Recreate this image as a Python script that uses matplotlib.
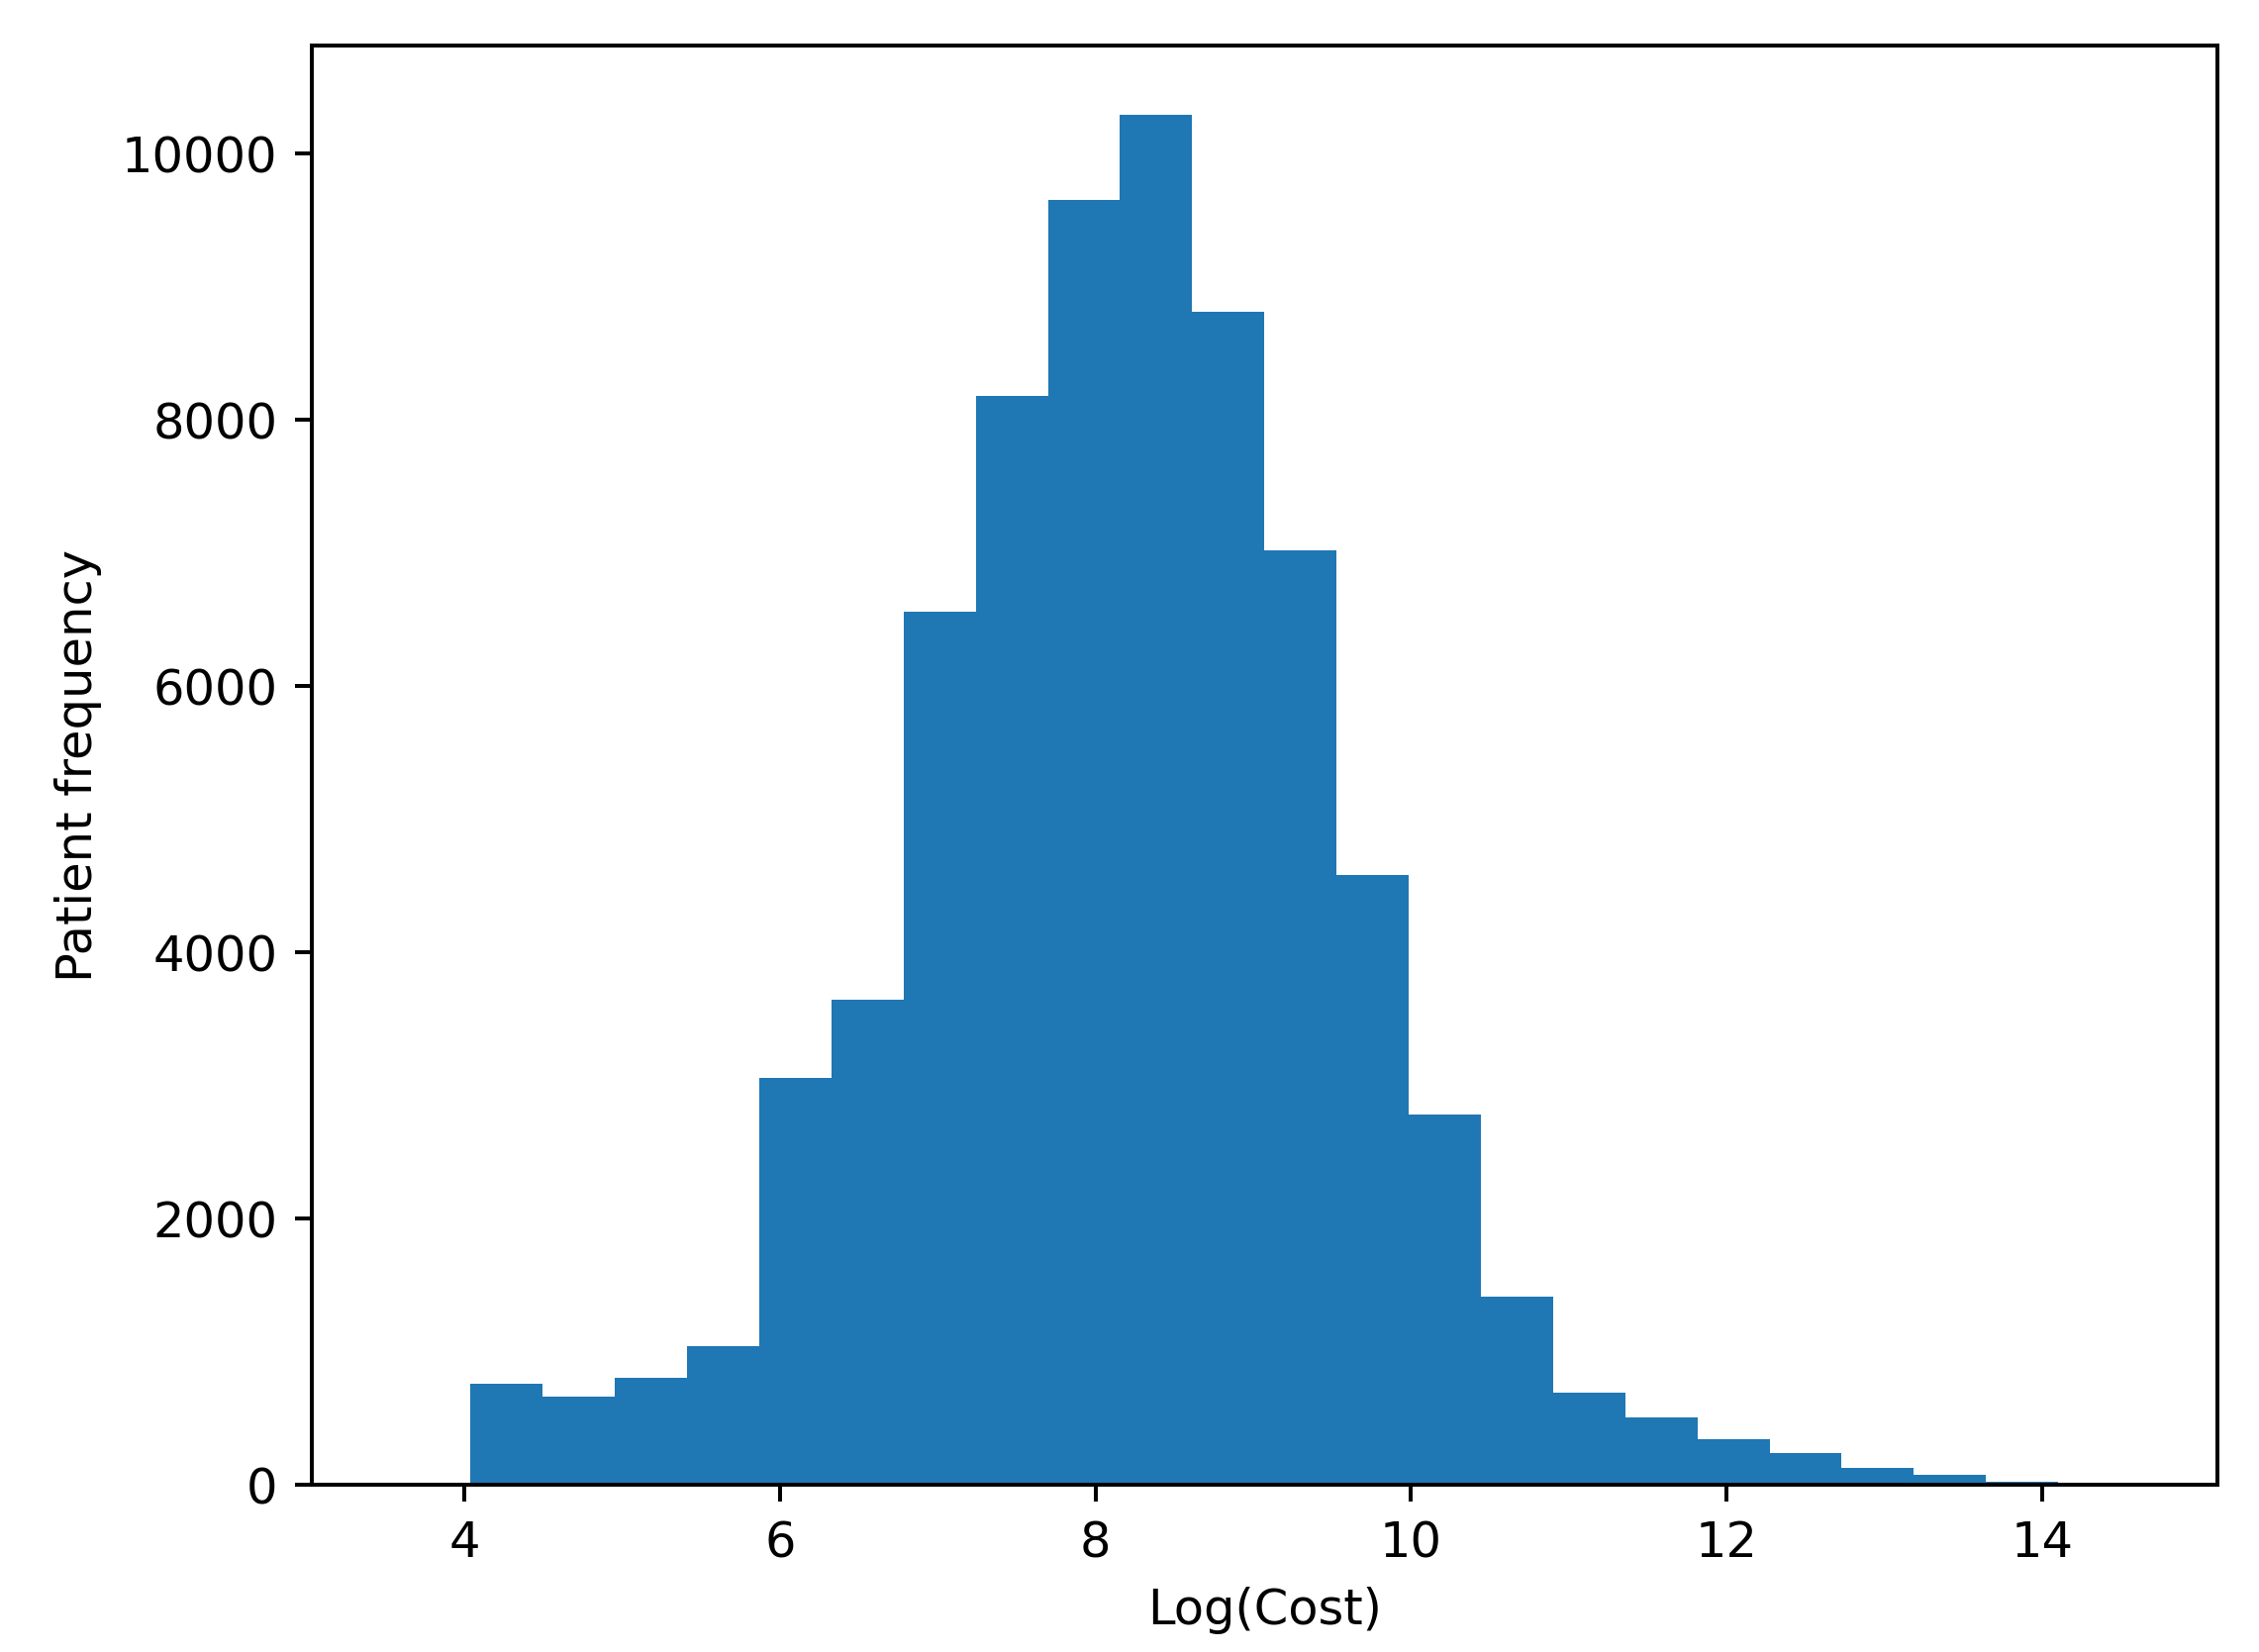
import numpy as np
import matplotlib.pyplot as plt

# histogram bins (24 equal bins)
bin_lo = 3.58
bin_hi = 14.56
counts = [0, 762, 664, 805, 1045, 3058, 3645, 6561, 8183, 9652, 10294, 8814,
          7019, 4581, 2786, 1415, 696, 511, 348, 239, 131, 76, 22, 3]

edges = np.linspace(bin_lo, bin_hi, len(counts) + 1)
centers = (edges[:-1] + edges[1:]) / 2

fig = plt.figure(figsize=(6.4, 4.68))
ax = fig.add_axes([0.138, 0.101, 0.843, 0.871])
ax.hist(centers, bins=edges, weights=counts, color='#1f77b4')
ax.set_xlabel('Log(Cost)')
ax.set_ylabel('Patient frequency')
fig.savefig('out.png', dpi=356.7)
